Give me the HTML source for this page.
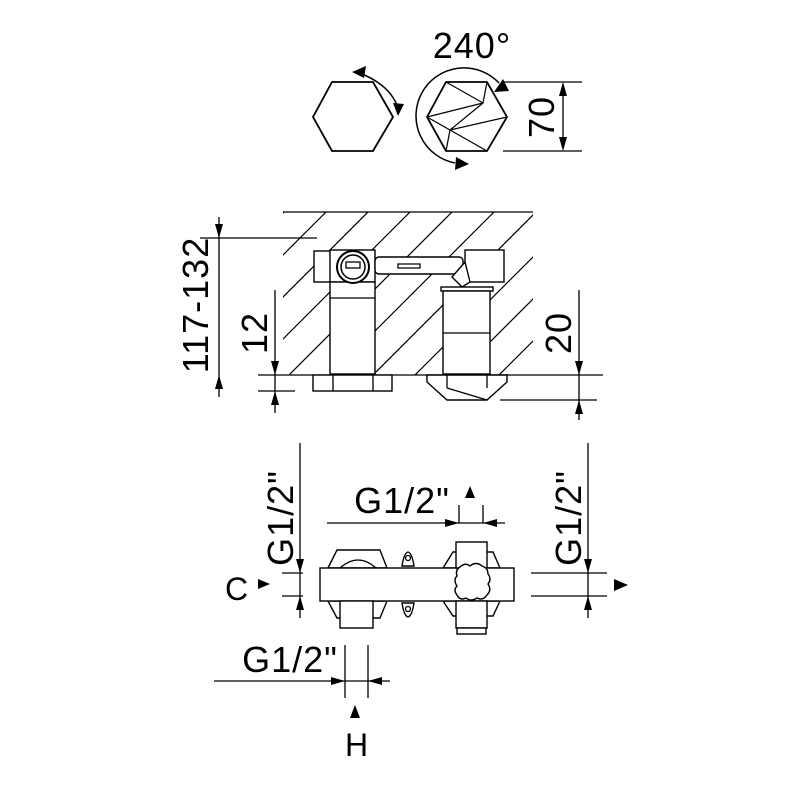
<!DOCTYPE html>
<html><head><meta charset="utf-8"><style>html,body{margin:0;padding:0;background:#fff}svg{display:block}</style></head>
<body>
<svg width="800" height="800" viewBox="0 0 800 800" xmlns="http://www.w3.org/2000/svg" font-family="Liberation Sans, DejaVu Sans, sans-serif" font-size="36" letter-spacing="1" fill="none" stroke="#000" stroke-width="1.3">
<defs>
<pattern id="h" patternUnits="userSpaceOnUse" x="34" y="0" width="42" height="42">
<path d="M0,42 L42,0 M-10,10 L10,-10 M32,52 L52,32" stroke="#000" stroke-width="1.2"/>
</pattern>
</defs>

<!-- TOP -->
<polygon points="332,82 373,82 393,117 373,151 332,151 313,117" stroke-width="1.8"/>
<path d="M357,72 Q390,84 398,108" stroke-width="1.5"/>
<polygon points="352,72 366,66 364,78" fill="#000" stroke="none"/>
<polygon points="398,116 393,103 404,104" fill="#000" stroke="none"/>

<polygon points="446,82 487,82 507,117 487,151 446,151 427,117" stroke-width="1.8"/>
<path d="M446,82 L483,103 L487,82 M483,103 L427,117 M483,103 L450,130 L507,117 M427,117 L450,130 L446,151 M450,130 L487,151 M455,110 L483,103" stroke-width="1.2"/>
<path d="M499,83 A48,48 0 1 0 455,163" stroke-width="1.5"/>
<polygon points="509,91 494,92 503,79" fill="#000" stroke="none"/>
<polygon points="469,164 455,170 456,157" fill="#000" stroke="none"/>
<text x="472" y="58" text-anchor="middle" fill="#000" stroke="none">240°</text>

<path d="M503,82 H582 M503,151 H582 M563,84 V149"/>
<polygon points="563,82 559,96 567,96" fill="#000" stroke="none"/>
<polygon points="563,151 559,137 567,137" fill="#000" stroke="none"/>
<text transform="translate(554,117) rotate(-90)" text-anchor="middle" fill="#000" stroke="none">70</text>

<!-- MIDDLE -->
<rect x="283" y="212" width="250" height="163" fill="url(#h)" stroke="none"/>
<path d="M283,212 H533"/>
<path d="M200,238 H317"/>
<path d="M219,217 V397"/>
<polygon points="219,238 215,224 223,224" fill="#000" stroke="none"/>
<polygon points="219,375 215,389 223,389" fill="#000" stroke="none"/>
<text transform="translate(208,305) rotate(-90)" text-anchor="middle" fill="#000" stroke="none">117-132</text>

<path d="M258,375 H603 M258,391 H295 M500,400 H597"/>
<path d="M275,290 V413"/>
<polygon points="275,375 271,361 279,361" fill="#000" stroke="none"/>
<polygon points="275,391 271,405 279,405" fill="#000" stroke="none"/>
<text transform="translate(267,333) rotate(-90)" text-anchor="middle" fill="#000" stroke="none">12</text>
<path d="M579,290 V420"/>
<polygon points="579,375 575,361 583,361" fill="#000" stroke="none"/>
<polygon points="579,400 575,414 583,414" fill="#000" stroke="none"/>
<text transform="translate(571,333) rotate(-90)" text-anchor="middle" fill="#000" stroke="none">20</text>

<g fill="#fff" stroke-width="1.4">
<rect x="314" y="251" width="19" height="31"/>
<rect x="330" y="250" width="45" height="32"/>
<rect x="330" y="282" width="45" height="92"/>
<rect x="313" y="375" width="79" height="16"/>
<rect x="375" y="257" width="88" height="17" rx="4"/>
<rect x="465" y="250" width="39" height="32"/>
<polygon points="452,277 465,262 470,282 462,287"/>
<rect x="441" y="287" width="52" height="4"/>
<rect x="443" y="291" width="47" height="83"/>
<polygon points="427,375 507,375 507,382 487,400 447,400 427,382"/>
</g>
<path d="M330,298 H375 M333,375 V391 M373,375 V391 M398,264 H420 V268 H398 Z M443,333 H490 M447,375 V388 M487,375 V388 M447,388 L487,400"/>
<circle cx="353" cy="267" r="16" fill="#fff" stroke-width="2"/>
<circle cx="353" cy="267" r="12" stroke-width="1.5"/>
<rect x="346" y="262" width="14" height="6"/>

<!-- BOTTOM -->
<path d="M300,443 V618 M282,573 H303 M282,596 H303"/>
<polygon points="300,573 296,559 304,559" fill="#000" stroke="none"/>
<polygon points="300,596 296,610 304,610" fill="#000" stroke="none"/>
<text transform="translate(293,518) rotate(-90)" text-anchor="middle" fill="#000" stroke="none">G1/2"</text>
<text x="237" y="600" text-anchor="middle" fill="#000" stroke="none" font-size="32">C</text>
<polygon points="258,579 270,584 258,589" fill="#000" stroke="none"/>

<g fill="#fff" stroke-width="1.4">
<polygon points="328,568 337,550 380,550 387,568"/>
<polygon points="328,601 337,618 380,618 387,601"/>
<polygon points="443,568 453,552 493,552 500,568"/>
<polygon points="443,601 453,616 493,616 500,601"/>
<path d="M402,566 Q404,553 408,552 Q412,553 414,566 Z"/>
<path d="M402,603 Q404,616 408,617 Q412,616 414,603 Z"/>
</g>
<path d="M340,568 Q358,552 376,568"/>
<circle cx="408" cy="558" r="2.5"/><circle cx="408" cy="609" r="2.5"/>
<rect x="320" y="568" width="194" height="33" fill="#fff" stroke-width="1.4"/>
<rect x="340" y="601" width="33" height="27" fill="#fff" stroke-width="1.4"/>
<rect x="456" y="542" width="31" height="26" fill="#fff" stroke-width="1.4"/>
<rect x="456" y="601" width="31" height="27" fill="#fff" stroke-width="1.4"/>
<rect x="457" y="628" width="29" height="6" fill="#fff" stroke-width="1.4"/>
<path d="M460,567 q5,-5 10,-1 q6,-5 12,0 q6,2 6,8 q4,5 0,10 q4,6 -1,11 q-4,6 -10,3 q-6,4 -11,0 q-6,3 -9,-3 q-4,-5 0,-9 q-4,-6 0,-10 q-2,-6 3,-9 z" fill="#fff" stroke-width="1.4"/>

<path d="M327,523 H505 M459,505 V523 M483,505 V523"/>
<polygon points="459,523 445,519 445,527" fill="#000" stroke="none"/>
<polygon points="483,523 497,519 497,527" fill="#000" stroke="none"/>
<text x="402" y="513" text-anchor="middle" fill="#000" stroke="none">G1/2"</text>
<polygon points="470,486 465,498 475,498" fill="#000" stroke="none"/>

<path d="M588,443 V618 M531,573 H607 M531,596 H607"/>
<polygon points="588,573 584,559 592,559" fill="#000" stroke="none"/>
<polygon points="588,596 584,610 592,610" fill="#000" stroke="none"/>
<text transform="translate(581,518) rotate(-90)" text-anchor="middle" fill="#000" stroke="none">G1/2"</text>
<polygon points="614,579 628,585 614,591" fill="#000" stroke="none"/>

<path d="M214,681 H390 M345,645 V698 M368,645 V698"/>
<polygon points="345,681 331,677 331,685" fill="#000" stroke="none"/>
<polygon points="368,681 382,677 382,685" fill="#000" stroke="none"/>
<text x="290" y="672" text-anchor="middle" fill="#000" stroke="none">G1/2"</text>
<polygon points="355,705 350,718 360,718" fill="#000" stroke="none"/>
<text x="357" y="756" text-anchor="middle" fill="#000" stroke="none" font-size="32">H</text>
</svg>
</body></html>
